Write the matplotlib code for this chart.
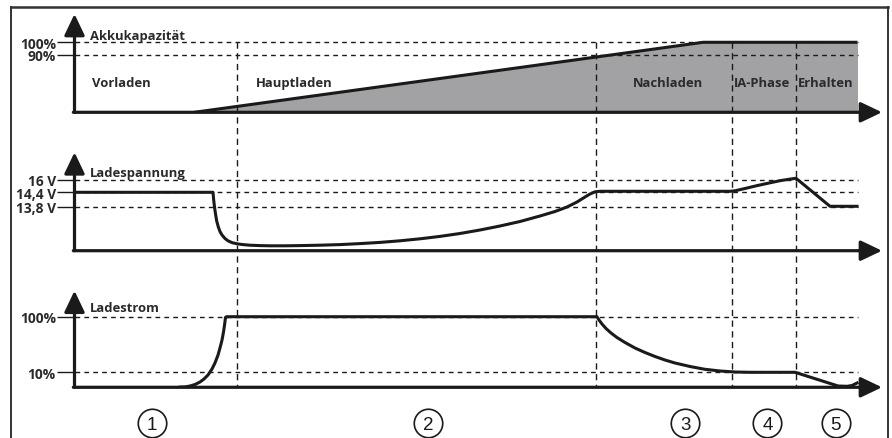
import matplotlib
matplotlib.use("Agg")
import matplotlib.pyplot as plt
from matplotlib.lines import Line2D

# ---------------- data (schematic units) ----------------
# time axis: 0 = origin, 100 = end of the curves
phase_bounds = [20.74, 66.65, 83.99, 92.14]
phase_names = ["Vorladen", "Hauptladen", "Nachladen", "IA-Phase", "Erhalten"]
phase_label_t = [2.2, 23.2, 71.3, 84.25, 92.4]
phase_numbers = ["1", "2", "3", "4", "5"]
phase_number_t = [9.85, 45.2, 78.0, 88.5, 97.2]

cap_ticks = [81.9, 100]
cap_tick_labels = ["90%", "100%"]
cap_t = [15.3, 80.3, 100]
cap_v = [0, 100, 100]

volt_ticks = [44.0, 58.4, 70.7]
volt_tick_labels = ["13,8 V", "14,4 V", "16 V"]
volt_t = [0, 17.69, 17.73, 17.79, 17.88, 18.01, 18.16, 18.37, 18.58, 18.84,
          19.22, 19.60, 20.11, 20.75, 21.52, 22.41, 23.69, 24.97, 26.88,
          28.80, 31.35, 33.91, 36.46, 39.02, 41.57, 44.13, 46.68, 49.23,
          51.79, 54.34, 56.90, 59.45, 61.37, 62.90, 64.18, 65.20, 65.84,
          66.48, 67.11, 83.72, 84.36, 85.63, 87.13, 88.83, 90.10, 91.38,
          92.15, 96.49, 99.94]
volt_v = [58.4, 58.4, 54.7, 49.7, 43.7, 36.7, 29.7, 23.7, 19.2, 15.7,
          12.2, 9.9, 8.1, 6.9, 6.1, 5.5, 5.1, 4.9, 4.9,
          5.1, 5.5, 6.1, 7.1, 8.3, 9.9, 11.9, 14.3, 17.2,
          20.7, 24.7, 29.2, 34.7, 39.2, 43.7, 48.7, 53.7, 56.7,
          58.9, 59.4, 59.4, 59.9, 62.2, 65.0, 67.9, 70.0, 71.6,
          72.4, 44.4, 44.4]

cur_ticks = [15.0, 70.6]
cur_tick_labels = ["10%", "100%"]
cur_t = [13.47, 14.11, 14.75, 15.39, 16.03, 16.54, 17.05, 17.56, 17.94,
         18.33, 18.58, 18.84, 19.03, 19.18, 19.28, 19.41, 66.73, 66.99,
         67.37, 67.88, 68.52, 69.28, 70.31, 71.58, 72.86, 74.14, 75.41,
         76.69, 78.61, 80.52, 82.44, 84.35, 86.27, 92.02, 97.52, 98.67,
         99.3, 99.94]
cur_v = [0.2, 0.4, 1.3, 2.8, 5.3, 8.3, 12.3, 18.3, 24.3,
         32.3, 39.3, 47.3, 55.3, 63.3, 69.8, 70.6, 70.6, 67.3,
         63.3, 58.8, 54.3, 49.8, 44.8, 39.3, 34.8, 30.8, 27.3,
         24.3, 20.8, 18.0, 16.3, 15.3, 15.0, 15.0, 1.3, 1.0,
         1.8, 4.3]

panel_titles = ["Akkukapazität", "Ladespannung", "Ladestrom"]

# ---------------- layout ----------------
W, H = 892, 439
fig = plt.figure(figsize=(W / 100, H / 100), dpi=100)
fig.patch.set_facecolor("white")

X0, X1 = 74.5, 882.0           # pixel x of origin / arrow tip
PX_PER_T = (857.5 - X0) / 100.0
TMAX = (X1 - X0) / PX_PER_T

def fx(px):
    return px / W

def fy(py):
    return 1 - py / H

def make_ax(top, bottom, ymax):
    ax = fig.add_axes([fx(X0), fy(bottom), fx(X1 - X0), (bottom - top) / H])
    ax.set_xlim(0, TMAX)
    ax.set_ylim(0, ymax)
    ax.patch.set_alpha(0)
    for s in ax.spines.values():
        s.set_visible(False)
    ax.set_xticks([])
    return ax

ax1 = make_ax(15.0, 113.3, 140.4)
ax2 = make_ax(153.3, 251.7, 98.4)
ax3 = make_ax(291.7, 388.3, 96.6)

FONT = "Open Sans"
FS = 9.4
FS_TICK = 9.9
LC = "#1a1a1a"
TC = "#2a2a2a"
DASH = (0, (3.4, 3.0))

def axes_arrows(ax, ymax):
    kw = dict(arrowstyle="-|>,head_length=1.3,head_width=0.62", lw=2.3,
              color=LC, shrinkA=0, shrinkB=0, mutation_scale=10)
    ax.annotate("", xy=(0, ymax), xytext=(0, 0), arrowprops=kw,
                annotation_clip=False)
    ax.annotate("", xy=(TMAX, 0), xytext=(-0.15, 0), arrowprops=kw,
                annotation_clip=False)

def ticks(ax, pos, labels):
    ax.set_yticks(pos)
    ax.set_yticklabels(labels, fontfamily=FONT, fontweight="bold",
                       fontsize=FS_TICK, color=TC)
    ax.tick_params(axis="y", length=13, width=1.0, color=LC, pad=0.5,
                   direction="out")
    for p in pos:
        ax.plot([0, 100], [p, p], color=LC, lw=1.0, ls=DASH, zorder=2)

# --- capacity panel
ax1.fill_between(cap_t, cap_v, 0, color="#a2a2a4", lw=0, zorder=1)
ticks(ax1, cap_ticks, cap_tick_labels)
ax1.plot(cap_t, cap_v, color=LC, lw=2.2, zorder=4, solid_capstyle="butt")
axes_arrows(ax1, 140.4)

# --- voltage panel
ticks(ax2, volt_ticks, volt_tick_labels)
ax2.plot(volt_t, volt_v, color=LC, lw=2.2, zorder=4, solid_joinstyle="round")
axes_arrows(ax2, 98.4)

# --- current panel
ticks(ax3, cur_ticks, cur_tick_labels)
ax3.plot(cur_t, cur_v, color=LC, lw=2.2, zorder=4, solid_joinstyle="round")
axes_arrows(ax3, 96.6)

# titles
for ax, title, lv in zip([ax1, ax2, ax3], panel_titles, [109.4, 78.7, 79.3]):
    ax.text(1.95, lv, title, fontfamily=FONT, fontweight="bold", fontsize=FS,
            color=TC, ha="left", va="center")

# phase names
for name, t in zip(phase_names, phase_label_t):
    ax1.text(t, 42.3, name, fontfamily=FONT, fontweight="bold", fontsize=FS,
             color=TC, ha="left", va="center", zorder=5)

# vertical phase boundaries spanning all panels
axv = fig.add_axes([fx(X0), fy(388.3), fx(X1 - X0), (388.3 - 43.3) / H])
axv.set_xlim(0, TMAX)
axv.set_ylim(0, 1)
axv.axis("off")
for b in phase_bounds:
    axv.plot([b, b], [1, 0], color=LC, lw=1.0, ls=(0, (4.5, 3.2)), zorder=3)

# circled numbers
for num, t in zip(phase_numbers, phase_number_t):
    ax3.plot([t], [388.3 - 424.0], marker="o", ms=20.5, mfc="none", mec=LC,
             mew=1.2, clip_on=False)
    ax3.text(t, 388.3 - 424.0, num, fontfamily="Liberation Sans",
             fontsize=13.5, color=LC, ha="center", va="center_baseline",
             clip_on=False)

# frame
fig.add_artist(Line2D([fx(10.5), fx(887.5)], [fy(8.3), fy(8.3)], color="#333333", lw=1.8))
fig.add_artist(Line2D([fx(10.5), fx(10.5)], [fy(8.3), fy(440)], color="#333333", lw=1.4))
fig.add_artist(Line2D([fx(887.5), fx(887.5)], [fy(8.3), fy(440)], color="#333333", lw=1.4))

fig.savefig("out.png", dpi=100)
